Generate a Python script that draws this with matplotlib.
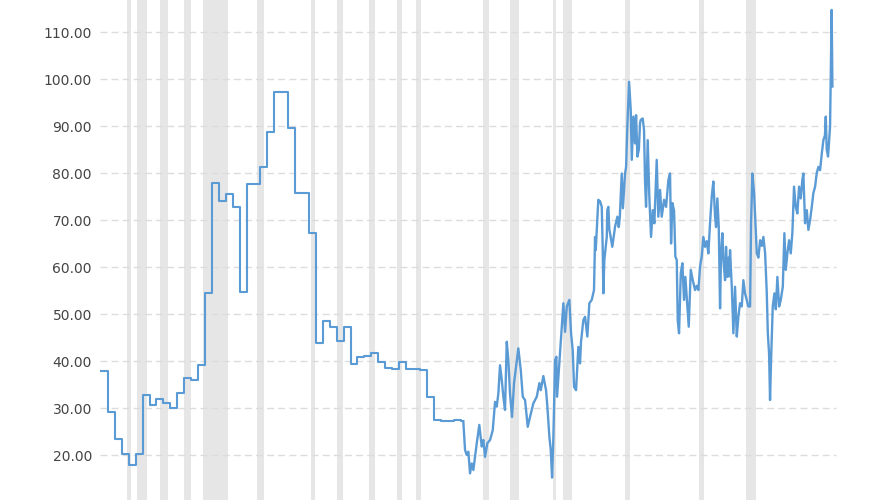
import numpy as np
import matplotlib
matplotlib.use("Agg")
import matplotlib.pyplot as plt

# ---- Data: gold-to-silver ratio ----
annual_years = list(range(1915, 1968))
annual_values = [
    37.9, 29.1, 23.5, 20.2, 17.9, 20.2, 32.8, 30.6, 31.9, 31.1,   # 1915-1924
    30.1, 33.3, 36.4, 36.0, 39.1, 54.4, 77.8, 74.1, 75.6, 72.8,   # 1925-1934
    54.7, 77.7, 77.7, 81.3, 88.8, 97.2, 97.2, 89.6, 75.7, 75.7,   # 1935-1944
    67.3, 43.8, 48.6, 47.3, 44.3, 47.2, 39.3, 40.8, 41.1, 41.6,   # 1945-1954
    39.7, 38.6, 38.2, 39.7, 38.4, 38.4, 38.1, 32.4, 27.4, 27.3,   # 1955-1964
    27.3, 27.4, 27.3,                                             # 1965-1967
]

monthly_dates = [
    1967.12, 1967.37, 1967.61, 1967.85, 1968.09, 1968.34, 1968.57, 1969.06, 1969.43, 1969.78,
    1970.01, 1970.26, 1970.59, 1970.98, 1971.37, 1971.70, 1971.94, 1972.18, 1972.42, 1972.67,
    1972.90, 1973.14, 1973.39, 1973.62, 1973.86, 1974.15, 1974.44, 1974.73, 1975.06, 1975.41,
    1975.70, 1976.03, 1976.42, 1976.75, 1977.23, 1977.72, 1978.10, 1978.30, 1978.67, 1979.06,
    1979.25, 1979.54, 1979.74, 1979.93, 1980.12, 1980.36, 1980.55, 1980.65, 1981.00, 1981.33,
    1981.56, 1981.80, 1982.05, 1982.42, 1982.67, 1982.91, 1983.10, 1983.39, 1983.72, 1983.96,
    1984.10, 1984.44, 1984.69, 1985.02, 1985.31, 1985.65, 1985.98, 1986.13, 1986.23, 1986.60,
    1986.85, 1987.10, 1987.24, 1987.33, 1987.47, 1987.82, 1987.90, 1988.05, 1988.19, 1988.29,
    1988.62, 1989.02, 1989.35, 1989.55, 1989.70, 1989.98, 1990.15, 1990.46, 1990.61, 1990.79,
    1991.04, 1991.28, 1991.43, 1991.66, 1991.90, 1992.05, 1992.24, 1992.45, 1992.62, 1992.72,
    1993.01, 1993.20, 1993.34, 1993.49, 1993.73, 1993.96, 1994.21, 1994.46, 1994.69, 1995.03,
    1995.26, 1995.51, 1995.75, 1996.09, 1996.38, 1996.71, 1996.95, 1997.10, 1997.29, 1997.53,
    1997.72, 1997.92, 1998.06, 1998.25, 1998.50, 1998.73, 1998.97, 1999.16, 1999.45, 1999.65,
    1999.94, 2000.23, 2000.56, 2000.80, 2001.04, 2001.28, 2001.52, 2001.76, 2002.00, 2002.25,
    2002.48, 2002.72, 2002.97, 2003.20, 2003.45, 2003.59, 2003.78, 2003.98, 2004.17, 2004.31,
    2004.50, 2004.65, 2004.89, 2005.03, 2005.22, 2005.40, 2005.47, 2005.61, 2005.86, 2006.09,
    2006.33, 2006.58, 2006.81, 2007.05, 2007.30, 2007.53, 2007.77, 2008.02, 2008.25, 2008.50,
    2008.64, 2008.83, 2009.08, 2009.27, 2009.47, 2009.70, 2009.95, 2010.19, 2010.42, 2010.67,
    2010.91, 2011.06, 2011.24, 2011.38, 2011.53, 2011.77, 2012.01, 2012.21, 2012.44, 2012.69,
    2012.93, 2013.22, 2013.45, 2013.65, 2013.88, 2014.13, 2014.37, 2014.60, 2014.84, 2015.09,
    2015.32, 2015.57, 2015.81, 2016.04, 2016.19, 2016.43, 2016.68, 2016.91, 2017.16, 2017.40,
    2017.63, 2017.88, 2018.12, 2018.36, 2018.60, 2018.85, 2019.08, 2019.30, 2019.42, 2019.56,
    2019.75, 2019.90, 2020.04, 2020.27, 2020.38,
]
monthly_values = [
    27.2, 21.1, 20.0, 20.7, 16.1, 18.2, 16.8, 22.5, 26.4, 21.8,
    23.2, 19.6, 22.5, 23.2, 25.3, 31.3, 30.3, 33.1, 39.1, 36.0,
    32.4, 29.6, 44.1, 40.2, 33.1, 28.1, 35.3, 38.8, 42.7, 38.1,
    32.4, 31.7, 26.0, 28.1, 31.0, 32.4, 35.3, 33.8, 36.8, 33.8,
    30.3, 23.9, 21.1, 15.2, 23.9, 40.2, 40.9, 32.4, 40.0, 47.3,
    52.3, 46.2, 51.6, 53.0, 45.9, 42.3, 34.5, 33.8, 43.0, 39.5,
    44.0, 48.7, 49.4, 45.2, 52.3, 53.0, 55.1, 66.4, 63.6, 74.3,
    74.0, 72.8, 63.6, 54.4, 61.5, 66.4, 72.1, 72.8, 67.9, 67.2,
    64.3, 68.6, 70.7, 68.5, 70.5, 79.9, 72.5, 79.9, 81.3, 89.9,
    99.4, 93.4, 82.8, 92.0, 86.3, 92.3, 83.5, 85.0, 90.6, 91.3,
    91.6, 89.1, 78.5, 72.8, 87.0, 75.0, 66.4, 72.1, 69.3, 82.8,
    70.7, 76.4, 70.7, 74.3, 72.8, 78.5, 79.9, 65.0, 73.6, 72.0,
    62.2, 61.5, 48.7, 45.9, 58.7, 60.8, 53.0, 57.9, 51.6, 47.3,
    59.4, 57.2, 55.1, 56.0, 55.1, 60.1, 62.2, 66.4, 64.3, 65.5,
    62.9, 69.3, 75.0, 78.2, 70.7, 68.5, 74.6, 68.5, 51.2, 62.9,
    67.2, 61.5, 57.2, 64.3, 57.9, 62.0, 58.0, 63.6, 55.8, 45.9,
    55.8, 45.2, 49.4, 52.3, 51.6, 57.2, 54.4, 53.0, 51.6, 51.6,
    69.3, 79.9, 75.7, 69.3, 62.9, 62.0, 65.7, 64.5, 66.4, 62.9,
    54.4, 45.9, 41.6, 31.7, 40.2, 51.6, 54.4, 51.0, 57.9, 51.6,
    53.0, 55.8, 67.2, 59.4, 62.9, 65.7, 62.9, 67.2, 77.1, 72.8,
    71.4, 77.1, 74.6, 78.5, 79.9, 69.3, 72.1, 67.9, 70.0, 72.8,
    75.7, 77.1, 80.0, 81.3, 80.6, 84.2, 87.0, 88.0, 92.0, 85.0,
    83.5, 87.0, 89.9, 114.7, 98.4,
]

recessions = [
    (1918.58, 1919.17), (1920.0, 1921.5), (1923.33, 1924.5), (1926.75, 1927.83),
    (1929.58, 1933.17), (1937.33, 1938.42), (1945.08, 1945.75), (1948.83, 1949.75),
    (1953.5, 1954.33), (1957.58, 1958.25), (1960.25, 1961.08), (1969.92, 1970.83),
    (1973.83, 1975.17), (1980.0, 1980.5), (1981.5, 1982.83), (1990.5, 1991.17),
    (2001.17, 2001.83), (2007.92, 2009.42),
]

yticks = [20, 30, 40, 50, 60, 70, 80, 90, 100, 110]

# ---- Figure ----
W, H, DPI = 888, 500, 100
fig = plt.figure(figsize=(W / DPI, H / DPI), dpi=DPI)
ax = fig.add_axes([100 / W, 0, 1 - 100 / W, 1])

line_color = "#5b9bd5"

for s, e in recessions:
    ax.axvspan(s, e, color="#e6e6e6", lw=0, zorder=0)

ax.hlines(yticks, 1914.7, 2020.9, colors="#dcdcdc", linestyles=(0, (5, 3)), lw=1.0, zorder=1)

# annual step portion (each year's value held over the year)
step_x = [y - 0.15 for y in annual_years] + [monthly_dates[0]]
step_y = annual_values + [annual_values[-1]]
ax.step(step_x, step_y, where="post", color=line_color, lw=1.5, zorder=3)
ax.plot([monthly_dates[0], monthly_dates[0]], [annual_values[-1], monthly_values[0]],
        color=line_color, lw=1.5, zorder=3)
ax.plot(monthly_dates, monthly_values, color=line_color, lw=1.7, zorder=3,
        solid_joinstyle="round")

ax.set_xlim(1914.70, 2028.4)
ax.set_ylim(10.43, 116.81)
ax.set_yticks(yticks)
ax.set_yticklabels([f"{v:.2f}" for v in yticks], fontsize=10, color="#444444")
ax.tick_params(axis="y", length=0, pad=5.8)
ax.set_xticks([])
for sp in ax.spines.values():
    sp.set_visible(False)

fig.savefig("out.png", dpi=DPI)
